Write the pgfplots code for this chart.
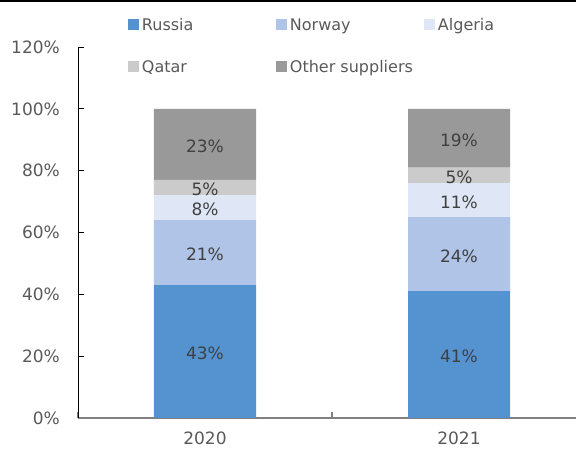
\documentclass[border=0pt]{standalone}
\usepackage{pgfplots}
\pgfplotsset{compat=1.18}
\usepackage{pgfplotstable}
\usepackage{fontspec}
\setmainfont{DejaVu Sans}
\definecolor{cRussia}{HTML}{5592D0}
\definecolor{cNorway}{HTML}{AFC4E6}
\definecolor{cAlgeria}{HTML}{DFE7F6}
\definecolor{cQatar}{HTML}{CBCBCB}
\definecolor{cOther}{HTML}{999999}
\definecolor{txtgray}{HTML}{595959}
\definecolor{lblgray}{HTML}{404040}
\definecolor{axgray}{HTML}{808080}

\pgfplotstableread{
x russia norway algeria qatar other
0 43 21 8 5 23
1 41 24 11 5 19
}\shares

\begin{document}
\begin{tikzpicture}
\begin{axis}[
  at={(78pt,31pt)}, anchor=south west,
  scale only axis, width=508pt, height=371pt,
  xmin=-0.5, xmax=1.5, ymin=0, ymax=120,
  clip=false,
  ybar stacked, bar width=102pt,
  axis x line=bottom, axis y line=left,
  x axis line style={axgray, line width=1.5pt, -},
  y axis line style={black, line width=0.9pt, -},
  tick align=inside, major tick length=6pt,
  ytick={0,20,...,120},
  yticklabel={\pgfmathprintnumber{\tick}\%},
  ytick style={black, line width=0.9pt},
  xtick={-0.5,0.5,1.5}, xticklabels={},
  xtick style={draw=axgray, line width=1.2pt},
  extra x ticks={0,1}, extra x tick labels={2020,2021},
  extra x tick style={tick style={draw=none}},
  /pgf/number format/assume math mode=true,
  tick label style={font=\fontsize{17}{20}\selectfont, text=txtgray},
  yticklabel style={inner sep=0pt, anchor=east, xshift=-18pt},
  xticklabel style={inner sep=0pt, anchor=north, yshift=-13.5pt},
  every axis plot/.append style={draw=none},
  midlabel/.style={
    visualization depends on={rawy \as \segval},
    nodes near coords={\pgfmathprintnumber{\segval}\%},
    every node near coord/.append style={anchor=center, yshift=-2pt,
      font=\fontsize{17}{20}\selectfont, text=lblgray, inner sep=0pt},
  },
  legend columns=3,
  legend cell align=left,
  legend style={at={(axis description cs:0.0984,1.0782)}, anchor=north west,
    draw=none, fill=none, inner sep=0pt, outer sep=0pt,
    /tikz/column sep=3pt, /tikz/row sep=25pt,
    font=\fontsize{16}{18}\selectfont, text=txtgray,
    nodes={inner sep=0pt, text height=13pt, text depth=4pt}},
  legend image code/.code={\fill[#1] (0pt,-3.5pt) rectangle (11pt,7.5pt);},
]
\addplot[fill=cRussia, midlabel] table[x=x, y=russia] {\shares};
\addlegendentry{\makebox[131pt][l]{Russia}}
\addplot[fill=cNorway, midlabel] table[x=x, y=norway] {\shares};
\addlegendentry{\makebox[131pt][l]{Norway}}
\addplot[fill=cAlgeria, midlabel] table[x=x, y=algeria] {\shares};
\addlegendentry{\makebox[131pt][l]{Algeria}}
\addplot[fill=cQatar, midlabel] table[x=x, y=qatar] {\shares};
\addlegendentry{\makebox[131pt][l]{Qatar}}
\addplot[fill=cOther, midlabel] table[x=x, y=other] {\shares};
\addlegendentry{\makebox[131pt][l]{Other suppliers}}
\end{axis}
\draw[black, line width=2pt] (0pt,448pt) -- (576pt,448pt);
\pgfresetboundingbox
\useasboundingbox (0pt,0pt) rectangle (576pt,449pt);
\end{tikzpicture}
\end{document}
